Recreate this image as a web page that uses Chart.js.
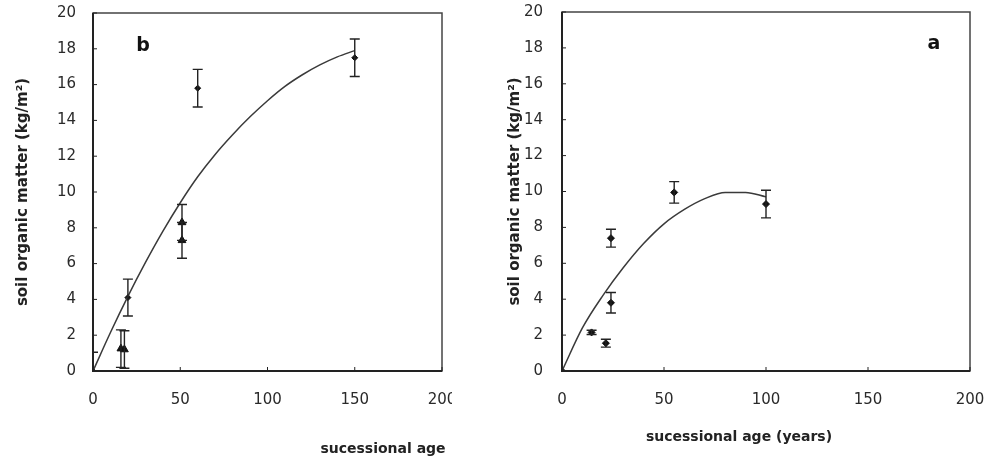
<!DOCTYPE html>
<html><head><meta charset="utf-8">
<script src="https://cdn.jsdelivr.net/npm/chart.js@4/dist/chart.umd.min.js"></script>
<style>
html,body{margin:0;padding:0;background:#fff;width:991px;height:460px;overflow:hidden}
#wl{position:absolute;left:0;top:0;width:452px;height:460px;overflow:hidden}
#wr{position:absolute;left:490px;top:0;width:501px;height:460px;overflow:hidden}
canvas{display:block}
</style></head><body>
<div id="wl"><canvas id="cl" width="470" height="460"></canvas></div>
<div id="wr"><canvas id="cr" width="501" height="460"></canvas></div>
<script>
// ---- data ----
const xTickValues = [0, 50, 100, 150, 200];
const yTickValues = [0, 2, 4, 6, 8, 10, 12, 14, 16, 18, 20];

// panel b
const bAgeDiamond = [0, 20, 60, 150];
const bSomDiamond = [0, 4.1, 15.8, 17.5];
const bErrDiamond = [1.05, 1.03, 1.05, 1.05];
const bAgeTriangle = [16, 18, 51, 51];
const bSomTriangle = [1.25, 1.2, 8.3, 7.3];
const bErrTriangle = [1.05, 1.05, 1.0, 1.0];
const bCurveAge = [0, 10, 20, 30, 40, 50, 60, 70, 80, 90, 100, 110, 120, 130, 140, 150];
const bCurveSom = [0, 2.15, 4.17, 6.05, 7.8, 9.4, 10.85, 12.1, 13.2, 14.2, 15.1, 15.9, 16.55, 17.1, 17.55, 17.9];

// panel a
const aAge = [0, 14.5, 21.5, 24, 24, 55, 100];
const aSom = [0, 2.15, 1.55, 7.4, 3.8, 9.95, 9.3];
const aErr = [0, 0.12, 0.22, 0.5, 0.57, 0.6, 0.77];
const aCurveAge = [0, 10, 20, 30, 40, 50, 60, 70, 80, 90, 100];
const aCurveSom = [0, 2.4, 4.2, 5.75, 7.1, 8.2, 9.0, 9.6, 9.95, 9.95, 9.7];

const yTitle = 'soil organic matter (kg/m²)';

const INK = '#222';
const FONT = '"DejaVu Sans", Verdana, sans-serif';

function pts(xs, ys) { return xs.map((x, i) => ({x: x, y: ys[i]})); }

function decor(cfg) {
  return {
    id: 'decor',
    afterDatasetsDraw(chart) {
      const ctx = chart.ctx, xs = chart.scales.x, ys = chart.scales.y, a = chart.chartArea;
      ctx.save();
      ctx.beginPath();
      ctx.rect(a.left - 1, a.top - 1, a.right - a.left + 2, a.bottom - a.top + 2);
      ctx.clip();
      ctx.strokeStyle = INK;
      ctx.lineWidth = 1.4;
      cfg.errors.forEach(set => {
        set.x.forEach((xv, i) => {
          const e = set.err[i];
          if (!e) return;
          const px = xs.getPixelForValue(xv);
          const y1 = ys.getPixelForValue(set.y[i] - e);
          const y2 = ys.getPixelForValue(set.y[i] + e);
          ctx.beginPath();
          ctx.moveTo(px, y1); ctx.lineTo(px, y2);
          ctx.moveTo(px - 5, y1); ctx.lineTo(px + 5, y1);
          ctx.moveTo(px - 5, y2); ctx.lineTo(px + 5, y2);
          ctx.stroke();
        });
      });
      ctx.restore();
    },
    afterDraw(chart) {
      const ctx = chart.ctx, xs = chart.scales.x, ys = chart.scales.y, a = chart.chartArea;
      ctx.save();
      // frame
      ctx.strokeStyle = '#444';
      ctx.lineWidth = 1.5;
      ctx.strokeRect(a.left, a.top, a.right - a.left, a.bottom - a.top);
      ctx.strokeStyle = INK;
      ctx.lineWidth = 2;
      ctx.beginPath();
      ctx.moveTo(a.left, a.top); ctx.lineTo(a.left, a.bottom); ctx.lineTo(a.right, a.bottom);
      ctx.stroke();
      // inward tick marks
      ctx.lineWidth = 1;
      ctx.beginPath();
      yTickValues.forEach(v => {
        const py = ys.getPixelForValue(v);
        ctx.moveTo(a.left, py); ctx.lineTo(a.left + 4, py);
      });
      xTickValues.forEach(v => {
        const px = xs.getPixelForValue(v);
        ctx.moveTo(px, a.bottom); ctx.lineTo(px, a.bottom - 4);
      });
      ctx.stroke();
      // panel letter
      ctx.fillStyle = '#111';
      ctx.font = 'bold 19px ' + FONT;
      ctx.textAlign = 'center';
      ctx.textBaseline = 'middle';
      ctx.fillText(cfg.letter, cfg.letterX(a), a.top + cfg.letterDy);
      // x title
      ctx.fillStyle = INK;
      ctx.font = 'bold 14px ' + FONT;
      ctx.fillText(cfg.xTitle, cfg.xTitleX(a), cfg.xTitleY);
      ctx.restore();
    }
  };
}

function makeOptions(axisWidth, padTop, padRight, yTickPad, titlePad) {
  return {
    responsive: false,
    animation: false,
    events: [],
    layout: { autoPadding: false, padding: { left: 0, top: padTop, right: padRight, bottom: 0 } },
    plugins: { legend: { display: false }, tooltip: { enabled: false } },
    scales: {
      x: {
        type: 'linear', min: 0, max: 200,
        grid: { display: false, drawTicks: false },
        border: { display: false },
        afterBuildTicks: s => { s.ticks = xTickValues.map(v => ({value: v})); },
        ticks: { padding: 20, color: '#2a2a2a', font: { family: FONT, size: 15 }, maxRotation: 0 },
        afterFit: s => { s.height = 89; s.paddingLeft = 0; s.paddingRight = 0; }
      },
      y: {
        type: 'linear', min: 0, max: 20,
        grid: { display: false, drawTicks: false },
        border: { display: false },
        afterBuildTicks: s => { s.ticks = yTickValues.map(v => ({value: v})); },
        ticks: { padding: yTickPad, color: '#2a2a2a', font: { family: FONT, size: 15 } },
        title: { display: true, text: yTitle, color: INK, font: { family: FONT, size: 15, weight: 'bold' }, padding: { top: titlePad, bottom: 0 } },
        afterFit: s => { s.width = axisWidth; s.paddingTop = 0; s.paddingBottom = 0; }
      }
    }
  };
}

// ---- panel b (left) ----
new Chart(document.getElementById('cl'), {
  type: 'scatter',
  data: {
    datasets: [
      { data: pts(bCurveAge, bCurveSom), showLine: true, pointRadius: 0, borderColor: '#3a3a3a', borderWidth: 1.5, cubicInterpolationMode: 'monotone', fill: false },
      { data: pts(bAgeDiamond, bSomDiamond), pointStyle: 'rectRot', pointRadius: 3, backgroundColor: '#111', borderColor: '#111', borderWidth: 1 },
      { data: pts(bAgeTriangle, bSomTriangle), pointStyle: 'triangle', pointRadius: 4.5, backgroundColor: '#111', borderColor: '#111', borderWidth: 1 }
    ]
  },
  options: makeOptions(93, 13, 28, 17, 14),
  plugins: [decor({
    letter: 'b', letterX: a => a.left + 50, letterDy: 33,
    xTitle: 'sucessional age', xTitleX: a => a.right - 59, xTitleY: 449,
    errors: [
      { x: bAgeDiamond, y: bSomDiamond, err: bErrDiamond },
      { x: bAgeTriangle, y: bSomTriangle, err: bErrTriangle }
    ]
  })]
});

// ---- panel a (right) ----
new Chart(document.getElementById('cr'), {
  type: 'scatter',
  data: {
    datasets: [
      { data: pts(aCurveAge, aCurveSom), showLine: true, pointRadius: 0, borderColor: '#3a3a3a', borderWidth: 1.5, cubicInterpolationMode: 'monotone', fill: false },
      { data: pts(aAge, aSom), pointStyle: 'rectRot', pointRadius: 3.5, backgroundColor: '#111', borderColor: '#111', borderWidth: 1 }
    ]
  },
  options: makeOptions(72, 12, 21, 19, 16),
  plugins: [decor({
    letter: 'a', letterX: a => a.right - 36, letterDy: 32,
    xTitle: 'sucessional age (years)', xTitleX: a => a.left + 177, xTitleY: 437,
    errors: [ { x: aAge, y: aSom, err: aErr } ]
  })]
});
</script>
</body></html>
